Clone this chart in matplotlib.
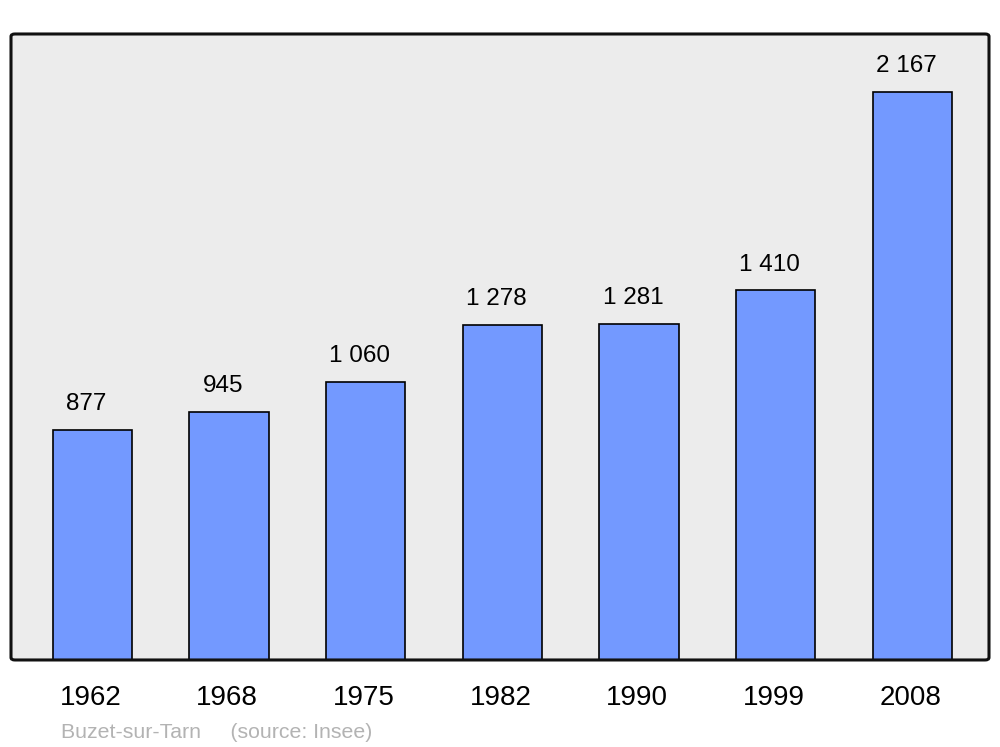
import matplotlib.pyplot as plt
from matplotlib.patches import FancyBboxPatch

years = ["1962", "1968", "1975", "1982", "1990", "1999", "2008"]
population = [877, 945, 1060, 1278, 1281, 1410, 2167]
labels = ["877", "945", "1 060", "1 278", "1 281", "1 410", "2 167"]

plt.rcParams['font.family'] = ['Liberation Sans', 'DejaVu Sans']

fig = plt.figure(figsize=(10, 7.47), dpi=100)
ax = fig.add_axes([0.011, 0.1165, 0.978, 0.838])
ax.set_facecolor('#ececec')

x = list(range(len(years)))
bars = ax.bar(x, population, width=0.58, color='#7399ff', edgecolor='black', linewidth=1.2, zorder=2)

for xi, val, lab in zip(x, population, labels):
    ax.annotate(lab, (xi, val), xytext=(-4.5, 18.5), textcoords='offset points',
                ha='center', va='center', fontsize=17.5)

ax.set_xlim(-0.595, 6.56)
ax.set_ylim(0, 2387)
ax.set_yticks([])
ax.set_xticks([xi - 0.015 for xi in x])
ax.set_xticklabels(years, fontsize=20)
ax.tick_params(axis='x', length=0, pad=18)

for s in ax.spines.values():
    s.set_visible(False)
frame = FancyBboxPatch((0, 0), 1, 1, boxstyle="round,pad=0,rounding_size=0.004",
                       transform=ax.transAxes, facecolor='none', edgecolor='#111111',
                       linewidth=2.2, clip_on=False, zorder=5)
ax.add_patch(frame)

fig.text(0.061, 0.007, "Buzet-sur-Tarn     (source: Insee)", fontsize=15.3, color='#b3b3b3', va='bottom')

fig.savefig('out.png', dpi=100)
